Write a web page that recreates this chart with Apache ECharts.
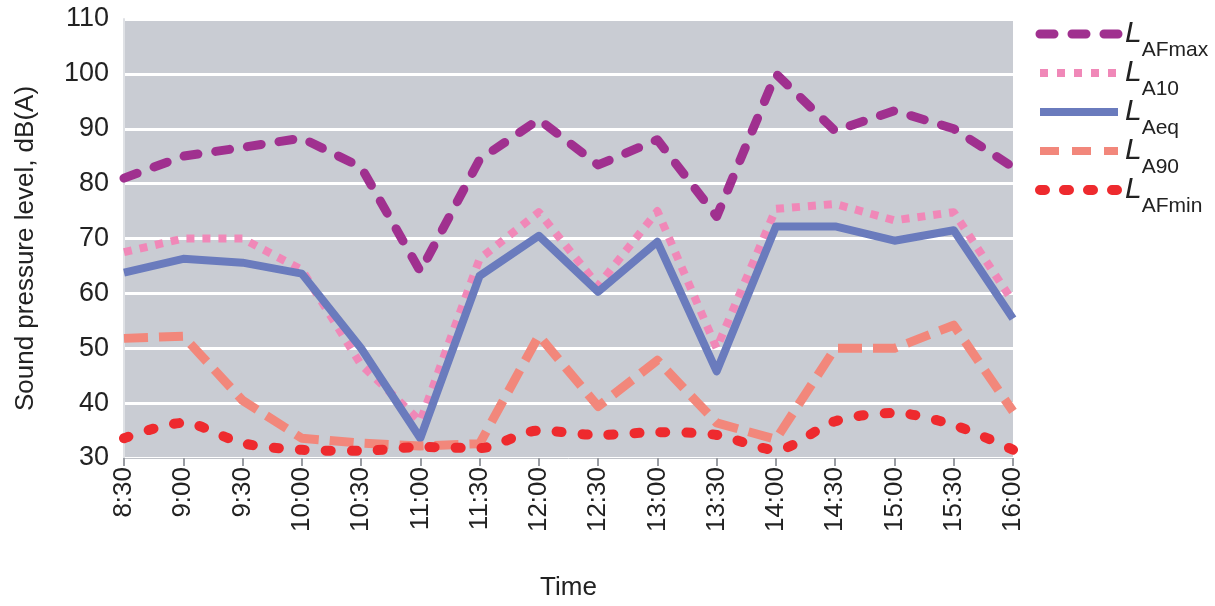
<!DOCTYPE html>
<html>
<head>
<meta charset="utf-8">
<script src="https://cdn.jsdelivr.net/npm/echarts@6/dist/echarts.min.js"></script>
<style>
  html, body { margin: 0; padding: 0; background: #fff; }
  #chart { width: 1215px; height: 606px; }
</style>
</head>
<body>
<div id="chart"></div>
<script>
  // time of day
  const times = ['8:30', '9:00', '9:30', '10:00', '10:30', '11:00', '11:30', '12:00',
    '12:30', '13:00', '13:30', '14:00', '14:30', '15:00', '15:30', '16:00'];

  // sound levels, dB(A)
  const lafMax = [81, 85, 86.6, 88.3, 83, 64, 84.4, 91.7, 83.4, 88, 74, 100, 89.6, 93.3, 90, 83];
  const la10 = [67.5, 70, 70, 64.3, 47, 36.7, 66.3, 74.8, 61.4, 75, 50, 75.4, 76.3, 73.3, 74.8, 58.5];
  const laEq = [63.8, 66.3, 65.6, 63.6, 50, 33.6, 63.2, 70.5, 60.3, 69.4, 45.8, 72.2, 72.2, 69.6, 71.5, 55.4];
  const la90 = [51.8, 52.2, 40.5, 33.6, 32.7, 32.2, 32.6, 52.3, 39.4, 47.8, 36.4, 33.4, 50, 50, 54.2, 38.5];
  const lafMin = [33.6, 36.4, 32.7, 31.5, 31.3, 32, 31.8, 35, 34.2, 34.7, 34.2, 31.5, 36.7, 38.2, 36, 31.5];

  const font = '"Liberation Sans", sans-serif';

  let chart = echarts.init(document.getElementById('chart'));

  function series(name, data, color, width, dash, cap, smooth) {
    return {
      name: name,
      type: 'line',
      data: data,
      showSymbol: false,
      symbol: 'circle',
      smooth: smooth,
      color: color,
      lineStyle: { color: color, width: width, type: dash, cap: cap, join: 'round' },
      emphasis: { disabled: true }
    };
  }

  // legend line only, the dot is made transparent
  function legendItem(name, width, dash, cap) {
    return {
      name: name,
      lineStyle: { width: width, type: dash, cap: cap },
      itemStyle: { color: 'rgba(0,0,0,0)', borderWidth: 0, opacity: 0 }
    };
  }

  chart.setOption({
    animation: false,
    textStyle: { fontFamily: font },
    grid: {
      left: 124, right: 202, top: 19, bottom: 146,
      show: true, backgroundColor: '#c9ccd3', borderWidth: 0
    },
    legend: {
      orient: 'vertical',
      left: 1030,
      top: 14,
      itemWidth: 78,
      itemHeight: 12,
      itemGap: -3,
      data: [
        legendItem('LAFmax', 9, [14, 18], 'round'),
        legendItem('LA10', 8, [8, 9], 'butt'),
        legendItem('LAeq', 8, 'solid', 'butt'),
        legendItem('LA90', 8, [19, 13], 'butt'),
        legendItem('LAFmin', 10, [5, 19], 'round')
      ],
      formatter: function (name) {
        return '{i|L}{s|' + name.slice(1) + '}';
      },
      textStyle: {
        rich: {
          i: { fontFamily: font, fontSize: 30, fontStyle: 'italic', color: '#222', lineHeight: 30, padding: [0, 0, 0, 2] },
          s: { fontFamily: font, fontSize: 21, color: '#222', lineHeight: 30, verticalAlign: 'bottom', padding: [0, 0, -12, 0] }
        }
      }
    },
    xAxis: {
      type: 'category',
      data: times,
      boundaryGap: false,
      name: 'Time',
      nameLocation: 'middle',
      nameGap: 117,
      nameTextStyle: { fontFamily: font, fontSize: 26, color: '#222' },
      axisLine: { show: true, lineStyle: { color: '#bfc2c8', width: 1 } },
      axisTick: { show: true, alignWithLabel: true, length: 8, lineStyle: { color: '#9a9da3', width: 2 } },
      axisLabel: { rotate: 90, fontSize: 26, color: '#222', margin: 9, fontFamily: font, interval: 0 },
      splitLine: { show: false }
    },
    yAxis: {
      type: 'value',
      min: 30,
      max: 110,
      interval: 10,
      name: 'Sound pressure level, dB(A)',
      nameLocation: 'middle',
      nameGap: 85,
      nameTextStyle: { fontFamily: font, fontSize: 26, color: '#222', padding: [0, 20, 0, 0] },
      axisLine: { show: true, lineStyle: { color: '#dfe1e5', width: 2 } },
      axisTick: { show: false },
      axisLabel: { fontSize: 27, color: '#222', margin: 15, fontFamily: font },
      splitLine: { show: true, lineStyle: { color: '#ffffff', width: 3 } }
    },
    series: [
      series('LAFmax', lafMax, '#a0308f', 9, [14, 18], 'round', false),
      series('LA10', la10, '#f088b8', 8, [8, 8], 'butt', false),
      series('LAeq', laEq, '#6a7bbd', 8, 'solid', 'butt', false),
      series('LA90', la90, '#f2877b', 9, [24, 11], 'butt', false),
      series('LAFmin', lafMin, '#ee2a2e', 10, [5, 21], 'round', 0.3)
    ]
  });
</script>
</body>
</html>
